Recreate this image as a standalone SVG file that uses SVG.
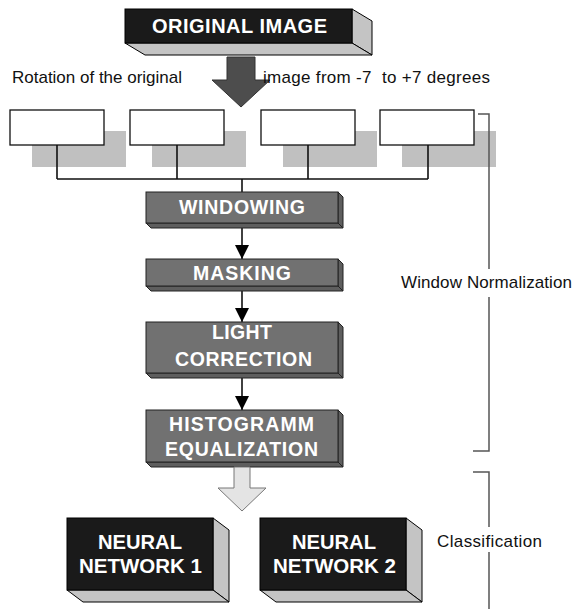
<svg xmlns="http://www.w3.org/2000/svg" width="577" height="609" viewBox="0 0 577 609">
<style>
text{font-family:"Liberation Sans",Arial,sans-serif}
.lbl{font-size:17px;fill:#111}
.w{font-weight:bold;fill:#fff}
.bf{fill:#1a1a1a;stroke:#000;stroke-width:1}
.bs{fill:#c4c4c4;stroke:#000;stroke-width:1}
.gf{fill:#717171;stroke:#222;stroke-width:1}
.gs{fill:#5e5e5e;stroke:#222;stroke-width:1}
.wb{fill:#fff;stroke:#111;stroke-width:1.3}
.sh{fill:#c0c0c0}
.ln{fill:none;stroke:#111;stroke-width:1.6}
.br{fill:none;stroke:#555;stroke-width:1.5}
</style>
<defs>
<marker id="ah" viewBox="0 0 14 20" refX="14" refY="10" markerWidth="14" markerHeight="20" markerUnits="userSpaceOnUse" orient="auto">
<path d="M0,3 L14,10 L0,17 z" fill="#000"/>
</marker>
</defs>

<g id="original-image">
<polygon class="bs" points="352,9 372,21 372,55 352,43"/>
<polygon class="bs" points="125,43 145,55 372,55 352,43"/>
<rect class="bf" x="125" y="9" width="227" height="34"/>
<text class="w" x="152" y="33" font-size="20" textLength="175" lengthAdjust="spacing">ORIGINAL IMAGE</text>
</g>

<g id="rotation-arrow">
<polygon points="227,57 255,57 255,80 270,80 241,107 212,80 227,80" fill="#4d4d4d" stroke="#333" stroke-width="1"/>
</g>
<text class="lbl" x="12" y="83" font-size="16" textLength="170" lengthAdjust="spacing">Rotation of the original</text>
<text class="lbl" x="263" y="83" font-size="16" textLength="227" lengthAdjust="spacing" xml:space="preserve">image from -7  to +7 degrees</text>

<g id="rot1"><rect class="sh" x="32" y="131" width="94" height="36"/><rect class="wb" x="10" y="110" width="94" height="35"/></g>
<g id="rot2"><rect class="sh" x="152" y="131" width="94" height="36"/><rect class="wb" x="130" y="110" width="94" height="35"/></g>
<g id="rot3"><rect class="sh" x="283" y="131" width="94" height="36"/><rect class="wb" x="261" y="110" width="94" height="35"/></g>
<g id="rot4"><rect class="sh" x="402" y="131" width="94" height="36"/><rect class="wb" x="380" y="110" width="94" height="35"/></g>

<g id="connectors">
<path class="ln" d="M57,145 V179 M177,145 V179 M308,145 V179 M428,145 V179 M57,179 H428 M242,179 V192"/>
<path class="ln" d="M242,228 V259" marker-end="url(#ah)"/>
<path class="ln" d="M242,291 V322" marker-end="url(#ah)"/>
<path class="ln" d="M242,378 V410" marker-end="url(#ah)"/>
</g>

<g id="windowing">
<polygon class="gs" points="338,192 343,197 343,228 338,223"/>
<polygon class="gs" points="146,223 151,228 343,228 338,223"/>
<rect class="gf" x="146" y="192" width="192" height="31"/>
<text class="w" x="179" y="214" font-size="19.5" textLength="126" lengthAdjust="spacing">WINDOWING</text>
</g>

<g id="masking">
<polygon class="gs" points="338,259 343,264 343,291 338,286"/>
<polygon class="gs" points="146,286 151,291 343,291 338,286"/>
<rect class="gf" x="146" y="259" width="192" height="27"/>
<text class="w" x="193" y="280" font-size="19.5" textLength="98" lengthAdjust="spacing">MASKING</text>
</g>

<g id="light-correction">
<polygon class="gs" points="338,322 343,327 343,378 338,373"/>
<polygon class="gs" points="146,373 151,378 343,378 338,373"/>
<rect class="gf" x="146" y="322" width="192" height="51"/>
<text class="w" x="212" y="339" font-size="19.5" textLength="60" lengthAdjust="spacing">LIGHT</text>
<text class="w" x="175" y="366" font-size="19.5" textLength="137" lengthAdjust="spacing">CORRECTION</text>
</g>

<g id="histogramm">
<polygon class="gs" points="338,410 343,415 343,467 338,462"/>
<polygon class="gs" points="146,462 151,467 343,467 338,462"/>
<rect class="gf" x="146" y="410" width="192" height="52"/>
<text class="w" x="169" y="431" font-size="19.5" textLength="145" lengthAdjust="spacing">HISTOGRAMM</text>
<text class="w" x="165" y="456" font-size="19.5" textLength="153" lengthAdjust="spacing">EQUALIZATION</text>
</g>

<g id="class-arrow">
<polygon points="234,467 250,467 250,488 266,488 242,511 218,488 234,488" fill="#e4e4e4" stroke="#777" stroke-width="1"/>
</g>

<g id="nn1">
<polygon class="bs" points="213,518 229,530 229,602 213,590"/>
<polygon class="bs" points="67,590 83,602 229,602 213,590"/>
<rect class="bf" x="67" y="518" width="146" height="72"/>
<text class="w" x="98" y="549" font-size="20" textLength="84" lengthAdjust="spacingAndGlyphs">NEURAL</text>
<text class="w" x="79" y="573" font-size="20" textLength="123" lengthAdjust="spacingAndGlyphs">NETWORK 1</text>
</g>

<g id="nn2">
<polygon class="bs" points="406,518 422,530 422,602 406,590"/>
<polygon class="bs" points="260,590 276,602 422,602 406,590"/>
<rect class="bf" x="260" y="518" width="146" height="72"/>
<text class="w" x="292" y="549" font-size="20" textLength="84" lengthAdjust="spacingAndGlyphs">NEURAL</text>
<text class="w" x="273" y="573" font-size="20" textLength="123" lengthAdjust="spacingAndGlyphs">NETWORK 2</text>
</g>

<g id="brackets">
<path class="br" d="M478,114 H489 V269 M489,297 V451 H473 M473,472 H489 V527 M489,552 V609"/>
<text class="lbl" x="401" y="288" textLength="171" lengthAdjust="spacing">Window Normalization</text>
<text class="lbl" x="437" y="547" textLength="105" lengthAdjust="spacing">Classification</text>
</g>
</svg>
